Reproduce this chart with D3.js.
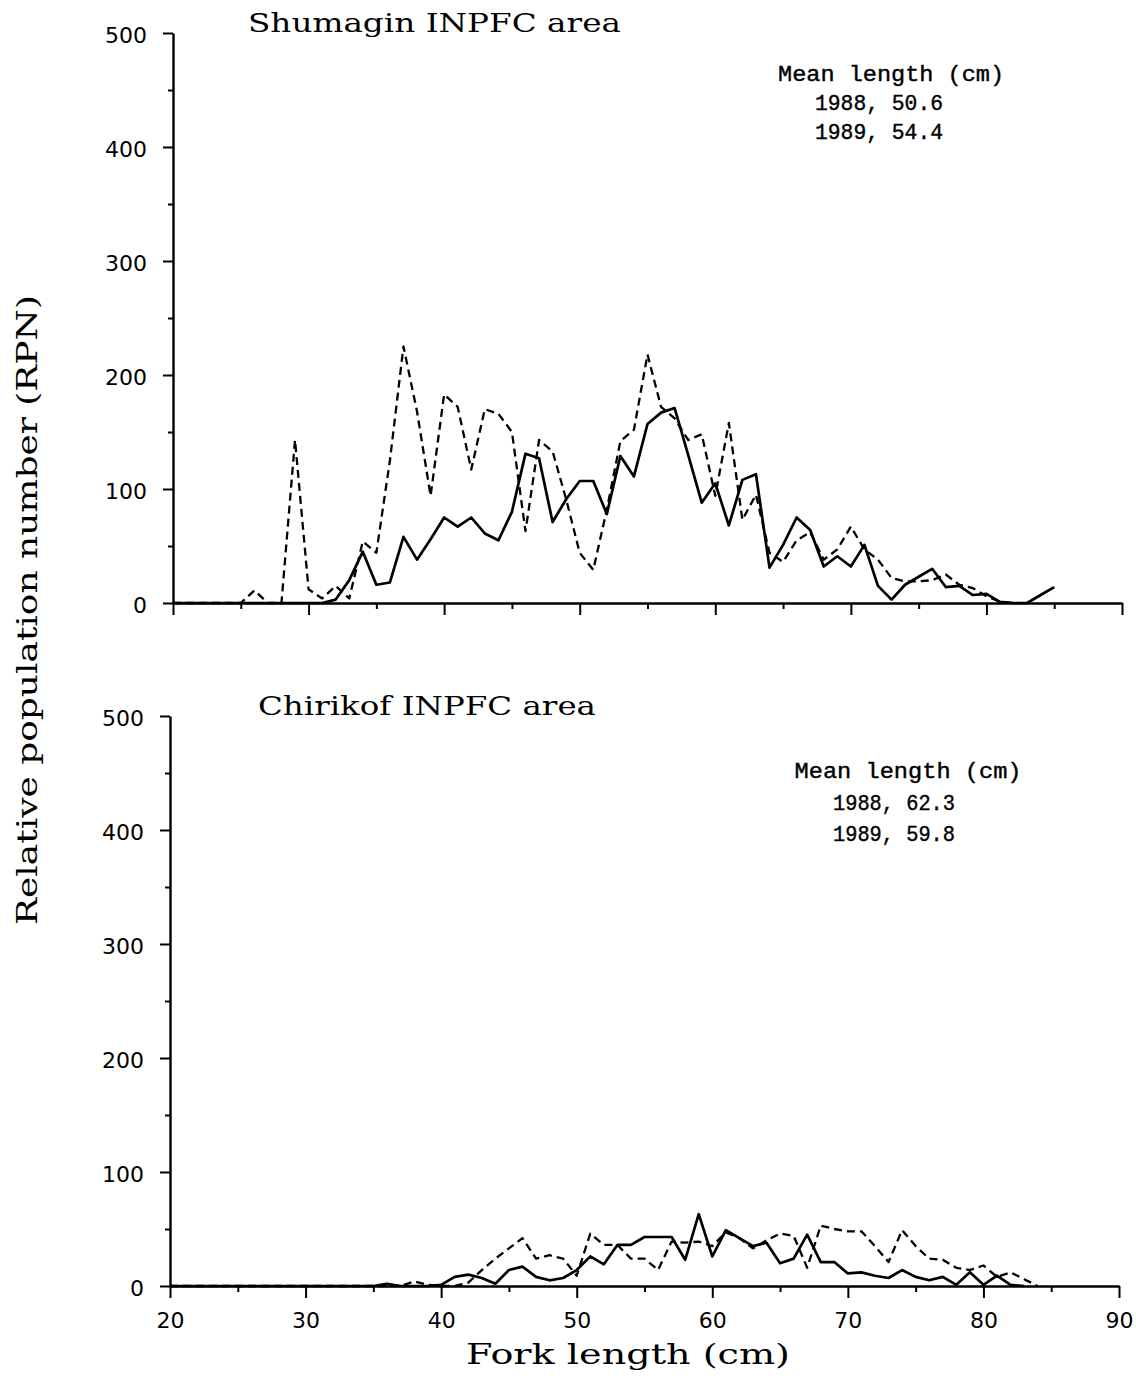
<!DOCTYPE html>
<html>
<head>
<meta charset="utf-8">
<script src="https://cdn.jsdelivr.net/npm/d3@7"></script>
<style>
  html, body { margin: 0; padding: 0; background: #fff; }
  svg { display: block; }
</style>
</head>
<body>
<svg id="chart" width="1136" height="1396"></svg>
<script>
// ---------- data ----------
const lengthsTop = d3.range(20, 86);      // 20..85 cm
const lengthsBottom = d3.range(20, 85);   // 20..84 cm

const shumagin1988 = [0,0,0,0,0,0,11,0,0,143, 12,4,15,4,54,44,125,225,168,94,
  183,172,117,170,166,150,63,143,133,91, 44,29,82,142,152,218,172,162,143,148,
  94,158,73,95,44,36,55,62,38,47, 67,47,38,22,19,19,20,25,16,13,
  6,1,0];
const shumagin1989 = [0,0,0,0,0,0,0,0,0,0, 0,0,3,20,45,16,18,58,38,56,
  75,67,75,61,55,80,131,127,71,91, 107,107,78,129,111,157,167,171,130,88,
  105,68,108,113,31,51,75,64,32,41, 32,51,15,3,16,23,30,14,15,7,
  8,1,0,0,7,14];
const chirikof1988 = [0,0,0,0,0,0,0,0,0,0, 0,0,0,0,0,0,0,0,4,1,
  0,0,3,14,24,33,42,24,27,24, 9,46,36,36,24,24,14,39,38,39,
  35,47,42,33,40,46,44,16,53,50, 48,48,35,21,49,35,24,23,16,14,
  18,8,12,6,0];
const chirikof1989 = [0,0,0,0,0,0,0,0,0,0, 0,0,0,0,0,0,2,0,0,0,
  1,8,10,7,2,14,17,8,5,7, 14,26,19,36,36,43,43,43,23,63,
  26,49,42,35,38,20,24,45,21,21, 11,12,9,7,14,8,5,8,1,12,
  1,9,1,0];

const xMajorTicks = [20, 30, 40, 50, 60, 70, 80, 90];
const xMinorTicks = [25, 35, 45, 55, 65, 75, 85];
const yMajorTicks = [0, 100, 200, 300, 400, 500];
const yMinorTicks = [50, 150, 250, 350, 450];

const panels = [
  { title: "Shumagin INPFC area", lengths88: lengthsTop.slice(0, shumagin1988.length), v88: shumagin1988,
    lengths89: lengthsTop.slice(0, shumagin1989.length), v89: shumagin1989,
    mean: ["Mean length (cm)", "1988, 50.6", "1989, 54.4"], xLabels: false },
  { title: "Chirikof INPFC area", lengths88: lengthsBottom.slice(0, chirikof1988.length), v88: chirikof1988,
    lengths89: lengthsBottom.slice(0, chirikof1989.length), v89: chirikof1989,
    mean: ["Mean length (cm)", "1988, 62.3", "1989, 59.8"], xLabels: true }
];

// ---------- layout ----------
const layout = [
  { x0: 173, x1: 1122, y0: 603, y1: 33,
    title: { x: 248, y: 32, w: 373 },
    mean: [{ x: 891, y: 81, w: 226 }, { x: 879, y: 110, w: 128 }, { x: 879, y: 139, w: 128 }] },
  { x0: 170, x1: 1119, y0: 1286, y1: 716,
    title: { x: 258, y: 715, w: 338 },
    mean: [{ x: 908, y: 778, w: 227 }, { x: 894, y: 810, w: 122 }, { x: 894, y: 841, w: 122 }] }
];

const svg = d3.select("#chart");
const serif = "'DejaVu Serif', 'Liberation Serif', serif";
const mono = "'Liberation Mono', 'DejaVu Sans Mono', monospace";
const sans = "'DejaVu Sans', 'Liberation Sans', sans-serif";

panels.forEach((p, i) => {
  const L = layout[i];
  const x = d3.scaleLinear().domain([20, 90]).range([L.x0, L.x1]);
  const y = d3.scaleLinear().domain([0, 500]).range([L.y0, L.y1]);
  const g = svg.append("g");

  // x axis major
  const xa = g.append("g").attr("transform", `translate(0,${L.y0})`)
    .call(d3.axisBottom(x).tickValues(xMajorTicks).tickSize(12).tickSizeOuter(0).tickPadding(14)
      .tickFormat(p.xLabels ? d3.format("d") : () => ""));
  xa.select(".domain").attr("stroke-width", 2.4);
  xa.selectAll(".tick line").attr("stroke-width", 2);
  xa.selectAll("text").attr("font-family", sans).attr("font-size", 22).attr("fill", "#000");
  const xm = g.append("g").attr("transform", `translate(0,${L.y0})`)
    .call(d3.axisBottom(x).tickValues(xMinorTicks).tickSize(6).tickFormat(() => ""));
  xm.select(".domain").remove();
  xm.selectAll(".tick line").attr("stroke-width", 2);

  // y axis
  const ya = g.append("g").attr("transform", `translate(${L.x0},0)`)
    .call(d3.axisLeft(y).tickValues(yMajorTicks).tickSize(10).tickSizeOuter(0).tickPadding(16));
  ya.select(".domain").attr("stroke-width", 2.4);
  ya.selectAll(".tick line").attr("stroke-width", 2);
  ya.selectAll("text").attr("font-family", sans).attr("font-size", 22).attr("fill", "#000")
    .attr("dy", "0.45em");
  const ym = g.append("g").attr("transform", `translate(${L.x0},0)`)
    .call(d3.axisLeft(y).tickValues(yMinorTicks).tickSize(5).tickFormat(() => ""));
  ym.select(".domain").remove();
  ym.selectAll(".tick line").attr("stroke-width", 2);

  // lines
  const d88 = p.lengths88.map((l, k) => [l, p.v88[k]]);
  const d89 = p.lengths89.map((l, k) => [l, p.v89[k]]);
  const line = d3.line().x(d => x(d[0])).y(d => y(d[1]));
  g.append("path").datum(d88).attr("d", line).attr("fill", "none").attr("stroke", "#000")
    .attr("stroke-width", 2.3).attr("stroke-dasharray", "8,5").attr("stroke-linejoin", "round");
  g.append("path").datum(d89).attr("d", line).attr("fill", "none").attr("stroke", "#000")
    .attr("stroke-width", 2.7).attr("stroke-linejoin", "round");

  // title
  g.append("text").attr("x", L.title.x).attr("y", L.title.y)
    .attr("font-family", serif).attr("font-size", 26).attr("fill", "#000")
    .attr("textLength", L.title.w).attr("lengthAdjust", "spacingAndGlyphs")
    .text(p.title);

  // mean lengths
  p.mean.forEach((t, k) => {
    const m = L.mean[k];
    g.append("text").attr("x", m.x - m.w / 2).attr("y", m.y)
      .attr("font-family", mono).attr("font-size", 22).attr("font-weight", "normal").attr("fill", "#000")
      .attr("stroke", "#000").attr("stroke-width", 0.4)
      .attr("textLength", m.w).attr("lengthAdjust", "spacingAndGlyphs")
      .text(t);
  });
});

// axis titles
svg.append("text").attr("transform", "translate(37,610) rotate(-90)")
  .attr("x", -315).attr("y", 0)
  .attr("font-family", serif).attr("font-size", 27).attr("fill", "#000")
  .attr("textLength", 630).attr("lengthAdjust", "spacingAndGlyphs")
  .text("Relative population number (RPN)");
svg.append("text").attr("x", 466).attr("y", 1364)
  .attr("font-family", serif).attr("font-size", 27).attr("fill", "#000")
  .attr("textLength", 324).attr("lengthAdjust", "spacingAndGlyphs")
  .text("Fork length (cm)");
</script>
</body>
</html>
